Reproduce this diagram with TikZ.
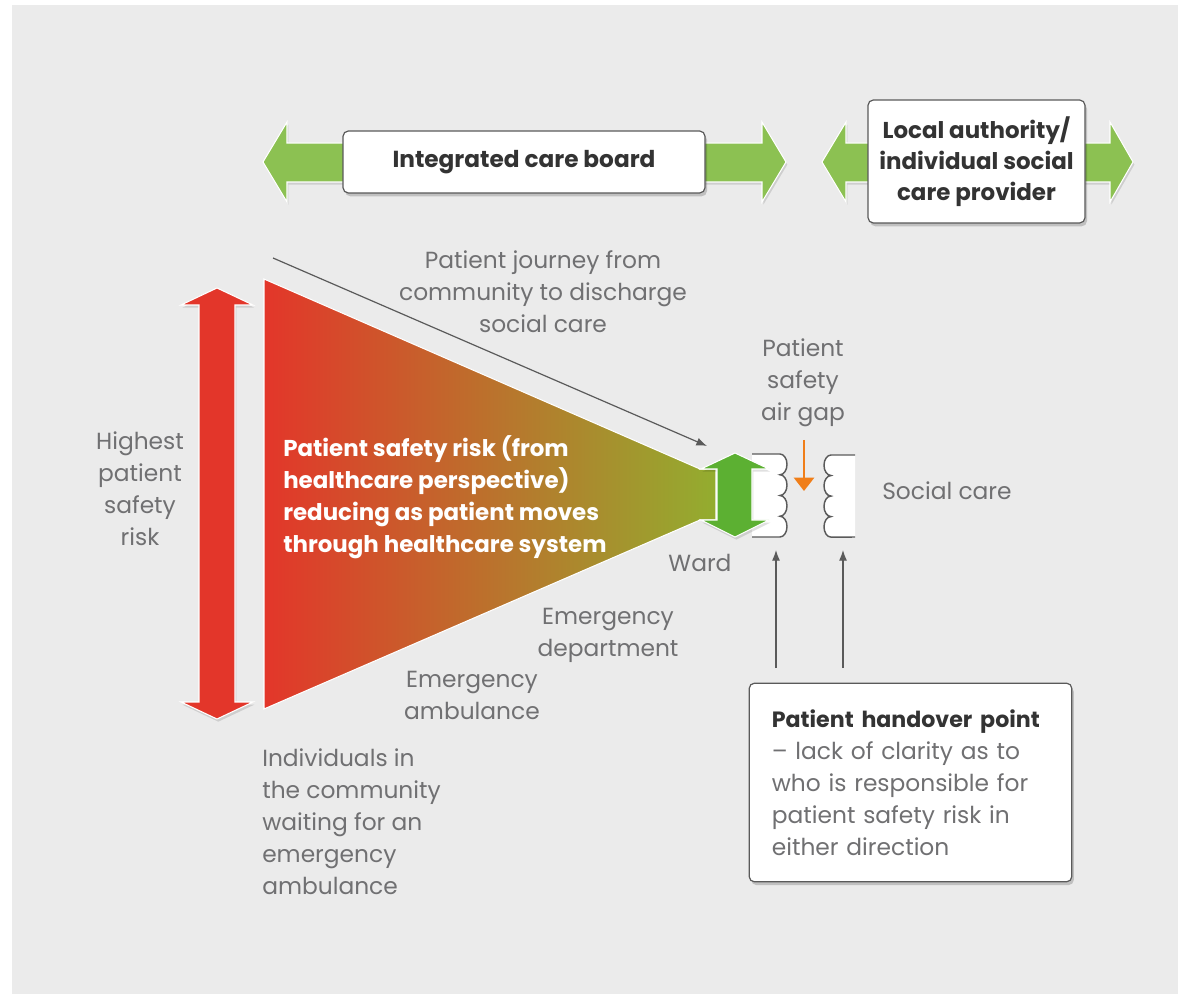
\documentclass[tikz,border=0pt]{standalone}
\usepackage{fontspec}
\setmainfont{Poppins}
\usetikzlibrary{shadows,arrows.meta}

\definecolor{bggray}{HTML}{EBEBEB}
\definecolor{txtgray}{HTML}{707072}
\definecolor{darktxt}{HTML}{333333}
\definecolor{boardgreen}{HTML}{8CC152}
\definecolor{wardgreen}{HTML}{5CB032}
\definecolor{riskred}{HTML}{E3362A}
\definecolor{funnelgreen}{HTML}{93AD2F}
\definecolor{airorange}{HTML}{F07E19}
\definecolor{edgegray}{HTML}{5A5A5A}

\tikzset{
  lbl/.style={text=txtgray, align=center, inner sep=0pt, font=\fontsize{17.5}{24}\selectfont},
  lblleft/.style={lbl, align=left},
  card/.style={draw=edgegray, fill=white, rounded corners=4pt, line width=0.9pt,
    drop shadow={shadow xshift=1.5pt, shadow yshift=-2.5pt, opacity=0.18, fill=black}},
  bigarrow/.style={line width=0.8pt, draw=white,
    drop shadow={shadow xshift=1pt, shadow yshift=-2pt, opacity=0.12, fill=black}},
  thinarrow/.style={draw=edgegray, line width=0.9pt, -{Latex[length=8pt,width=6pt]}}
}

\begin{document}
\begin{tikzpicture}[x=0.75pt,y=-0.75pt]
  \useasboundingbox (0,0) rectangle (1178,994);
  \fill[bggray] (12,5) rectangle (1178,994);

  % green double arrows along the top
  \fill[boardgreen, bigarrow] (263,162) -- (287,122) -- (287,143) -- (762,143) -- (762,122) -- (786,162)
        -- (762,202) -- (762,182) -- (287,182) -- (287,202) -- cycle;
  \fill[boardgreen, bigarrow] (822,162) -- (846,122) -- (846,143) -- (1110,143) -- (1110,122) -- (1133,162)
        -- (1110,202) -- (1110,182) -- (846,182) -- (846,202) -- cycle;
  \node[card, minimum width=271.5pt, minimum height=46.5pt, text=darktxt,
        font=\fontsize{17.4}{22}\selectfont\bfseries] (icb) at (524,162) {Integrated care board};
  \node[card, minimum width=162.75pt, minimum height=92.25pt, text=darktxt, align=center,
        font=\fontsize{17.2}{23.5}\selectfont\bfseries] (la) at (976.5,161.5) {Local authority/\\individual social\\care provider};

  % journey arrow
  \coordinate (jstart) at (273,258);
  \coordinate (jend) at (707,446);
  \draw[thinarrow] (jstart) -- (jend);
  \node[lbl] (journey) at (543,292) {Patient journey from\\community to discharge\\social care};

  % red risk arrow
  \fill[riskred, bigarrow] (217,288) -- (253,305) -- (235,305) -- (235,702) -- (253,702) -- (217,719)
        -- (181,702) -- (199,702) -- (199,305) -- (181,305) -- cycle;
  \node[lbl] (highest) at (140,489) {Highest\\patient\\safety\\risk};

  % funnel
  \def\funnel{ (264,279) -- (700,469) -- (716,469) -- (716,520) -- (700,520) -- (264,709) -- cycle};
  \shade[left color=riskred, right color=funnelgreen] \funnel;
  \draw[white, line width=0.8pt] \funnel;
  \node[lblleft, anchor=west, text=white, font=\fontsize{17.2}{24}\selectfont\bfseries] (risk) at (283,497)
        {Patient safety risk (from\\healthcare perspective)\\reducing as patient moves\\through healthcare system};

  % scalloped panels either side of the gap
  \def\leftpanel{ (752,454) -- (780,454)
        arc[start angle=90, end angle=-90, x radius=5.25pt, y radius=7.78pt]
        arc[start angle=90, end angle=-90, x radius=5.25pt, y radius=7.78pt]
        arc[start angle=90, end angle=-90, x radius=5.25pt, y radius=7.78pt]
        arc[start angle=90, end angle=-90, x radius=5.25pt, y radius=7.78pt]
        -- (752,537)};
  \def\rightpanel{ (855,455) -- (831,455)
        arc[start angle=90, end angle=270, x radius=5.25pt, y radius=7.7pt]
        arc[start angle=90, end angle=270, x radius=5.25pt, y radius=7.7pt]
        arc[start angle=90, end angle=270, x radius=5.25pt, y radius=7.7pt]
        arc[start angle=90, end angle=270, x radius=5.25pt, y radius=7.7pt]
        -- (855,537)};
  \fill[white] \leftpanel -- cycle;
  \draw[edgegray, line width=1.1pt] \leftpanel;
  \fill[white] \rightpanel -- cycle;
  \draw[edgegray, line width=1.1pt] \rightpanel;

  % ward arrow
  \fill[wardgreen, bigarrow] (735,453) -- (769,469) -- (752,469) -- (752,520) -- (769,520) -- (735,537)
        -- (701,520) -- (717,520) -- (717,469) -- (701,469) -- cycle;

  % air gap
  \node[lbl] (airgap) at (803,383) {Patient\\safety\\air gap};
  \coordinate (gtop) at (804,440);
  \coordinate (gbot) at (804,491);
  \draw[airorange, line width=2pt, -{Triangle[length=10pt,width=15pt]}] (gtop) -- (gbot);
  \node[lbl, anchor=west] (social) at (882,491) {Social care};

  % labels along the funnel
  \node[lbl] (ward) at (700,563) {Ward};
  \node[lbl] (ed) at (608,635) {Emergency\\department};
  \node[lbl] (amb) at (472,695) {Emergency\\ambulance};
  \node[lblleft, anchor=west] (community) at (262,822)
        {Individuals in\\the community\\waiting for an\\emergency\\ambulance};

  % handover point
  \node[card, minimum width=242pt, minimum height=149pt, inner xsep=17pt, text width=208pt,
        align=left, text=txtgray, font=\fontsize{17.5}{24}\selectfont] (hand) at (910.5,782.5)
        {{\color{darktxt}\fontsize{16.6}{24}\selectfont\bfseries Patient handover point}\\– lack of clarity as to\\who is responsible for\\patient safety risk in\\either direction};
  \coordinate (hleft) at (776,668);
  \coordinate (hright) at (843,668);
  \draw[thinarrow] (hleft) -- (776,550);
  \draw[thinarrow] (hright) -- (843,550);
\end{tikzpicture}
\end{document}
